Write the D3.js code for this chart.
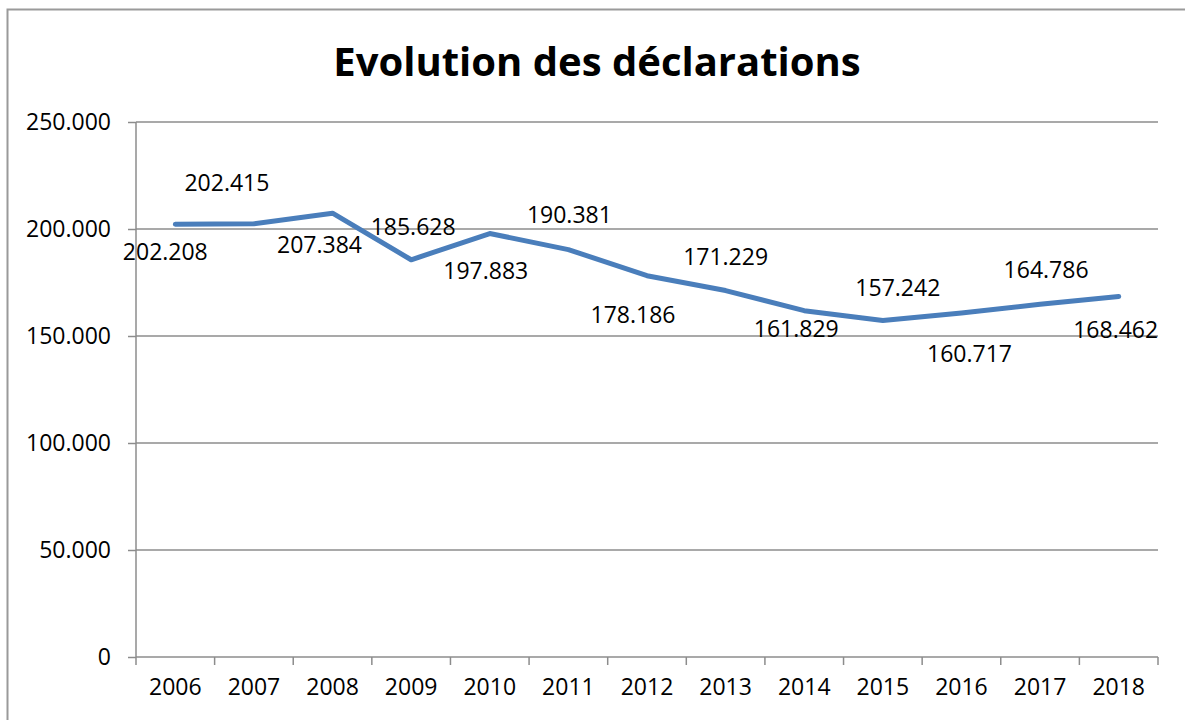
<!DOCTYPE html>
<html>
<head>
<meta charset="utf-8">
<script src="https://cdn.jsdelivr.net/npm/d3@7"></script>
<style>
  body { margin: 0; background: #fff; }
  svg text { font-family: "Open Sans", sans-serif; fill: #000; }
</style>
</head>
<body>
<svg id="chart" width="1185" height="720"></svg>
<script>
const years = ["2006", "2007", "2008", "2009", "2010", "2011", "2012", "2013", "2014", "2015", "2016", "2017", "2018"];
const declarations = [202.208, 202.415, 207.384, 185.628, 197.883, 190.381, 178.186, 171.229, 161.829, 157.242, 160.717, 164.786, 168.462];
const yTicks = [0, 50, 100, 150, 200, 250];
const yTickLabels = ["0", "50.000", "100.000", "150.000", "200.000", "250.000"];

// label nudges (px), Excel placed them by hand
const labelNudge = [[-10, 28], [-27, -41], [-13, 32], [2, -33], [-4, 37], [1, -35], [-14, 39],
  [0, -34], [-8, 18], [15, -33], [8, 41], [6, -34], [-3, 33]];

const svg = d3.select("#chart");
const margin = { left: 136, right: 27, top: 122, bottom: 63 };
const width = 1185, height = 720;

// outer frame
svg.append("rect").attr("x", 7.5).attr("y", 9.5).attr("width", 1200).attr("height", 800)
  .attr("fill", "none").attr("stroke", "#9a9a9a").attr("stroke-width", 2);

svg.append("text").attr("x", 597).attr("y", 76).attr("text-anchor", "middle")
  .style("font-size", "40px").style("font-weight", "bold").text("Evolution des déclarations");

const x = d3.scaleBand().domain(years).range([margin.left, width - margin.right]);
const y = d3.scaleLinear().domain([0, 250]).range([height - margin.bottom, margin.top]);

// gridlines
svg.append("g").selectAll("line").data(yTicks.slice(1)).enter().append("line")
  .attr("x1", margin.left).attr("x2", width - margin.right)
  .attr("y1", d => y(d)).attr("y2", d => y(d))
  .attr("stroke", "#8c8c8c").attr("stroke-width", 1.5);

const yAxis = d3.axisLeft(y).tickValues(yTicks).tickSize(8).tickPadding(17)
  .tickFormat((d, i) => yTickLabels[i]);
const gy = svg.append("g").attr("transform", `translate(${margin.left},0)`).call(yAxis);

const xAxis = d3.axisBottom(x).tickSize(0).tickPadding(22);
const gx = svg.append("g").attr("transform", `translate(0,${height - margin.bottom})`).call(xAxis);
// ticks sit on the band edges
gx.append("g").selectAll("line").data(years.concat(["end"])).enter().append("line")
  .attr("x1", (d, i) => margin.left + i * x.step()).attr("x2", (d, i) => margin.left + i * x.step())
  .attr("y1", 0).attr("y2", 8).attr("stroke", "#8c8c8c").attr("stroke-width", 1.5);

[gx, gy].forEach(g => {
  g.select(".domain").attr("stroke", "#8c8c8c").attr("stroke-width", 1.5);
  g.selectAll(".tick line").attr("stroke", "#8c8c8c").attr("stroke-width", 1.5);
  g.selectAll("text").style("font-size", "23px").attr("fill", "#000");
});
gy.select(".domain").attr("d", `M0,${y(250)}V${y(0)}`);
gx.select(".domain").attr("d", `M${margin.left},0H${width - margin.right}`);

const line = d3.line().x((d, i) => x(years[i]) + x.bandwidth() / 2).y(d => y(d));
svg.append("path").datum(declarations).attr("d", line)
  .attr("fill", "none").attr("stroke", "#4a7ebb").attr("stroke-width", 5)
  .attr("stroke-linecap", "round").attr("stroke-linejoin", "round");

svg.append("g").selectAll("text").data(declarations).enter().append("text")
  .attr("x", (d, i) => x(years[i]) + x.bandwidth() / 2 + labelNudge[i][0])
  .attr("y", (d, i) => y(d) + labelNudge[i][1])
  .attr("dy", "0.35em").attr("text-anchor", "middle").style("font-size", "23px")
  .text(d => d3.format(".3f")(d));
</script>
</body>
</html>
